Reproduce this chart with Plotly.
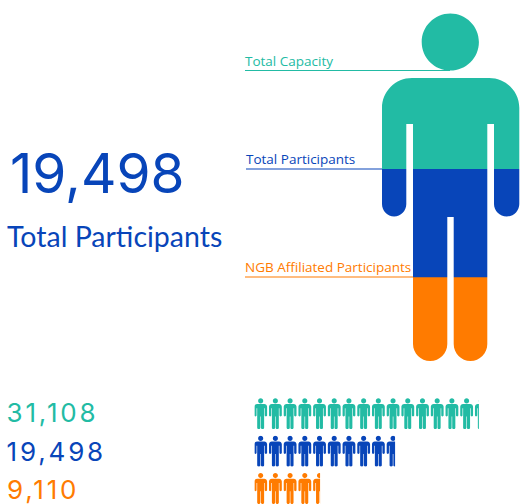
import plotly.graph_objects as go

# ---- data ----
series_names = ["Total Capacity", "Total Participants", "NGB Affiliated Participants"]
series_values = [31108, 19498, 9110]
series_colors = ["#22BBA4", "#0845B9", "#FF7B00"]
person_fill_share = [1.0, 0.552, 0.241]  # filled share of the large figure's height
headline_value = 19498
headline_label = "Total Participants"

W, H = 520, 504
K = 0.5523
TRACKING = 2.8


def round_corner(x0, y0, x1, y1, horizontal_first):
    """Quarter-ellipse from (x0,y0) to (x1,y1) as a cubic bezier."""
    dx, dy = x1 - x0, y1 - y0
    if horizontal_first:
        return f"C{x0 + K * dx:.2f},{y0:.2f} {x1:.2f},{y1 - K * dy:.2f} {x1:.2f},{y1:.2f}"
    return f"C{x0:.2f},{y0 + K * dy:.2f} {x1 - K * dx:.2f},{y1:.2f} {x1:.2f},{y1:.2f}"


def person_path(ox, oy, s, sx=None):
    """Silhouette in a 137.3 x 348 unit box, moved to (ox, oy) and scaled by s."""
    sx = s if sx is None else sx
    X = lambda v: ox + v * sx
    Y = lambda v: oy + v * s
    p = []
    # head
    cx, cy, r = 68.3, 29, 28.6
    rx = r * s / sx
    p.append(f"M{X(cx - rx):.2f},{Y(cy):.2f}")
    p.append(round_corner(X(cx - rx), Y(cy), X(cx), Y(cy - r), False))
    p.append(round_corner(X(cx), Y(cy - r), X(cx + rx), Y(cy), True))
    p.append(round_corner(X(cx + rx), Y(cy), X(cx), Y(cy + r), False))
    p.append(round_corner(X(cx), Y(cy + r), X(cx - rx), Y(cy), True))
    p.append("Z")
    # body
    p.append(f"M{X(0):.2f},{Y(95):.2f}")
    p.append(round_corner(X(0), Y(95), X(30), Y(65), False))
    p.append(f"L{X(107.3):.2f},{Y(65):.2f}")
    p.append(round_corner(X(107.3), Y(65), X(137.3), Y(95), True))
    p.append(f"L{X(137.3):.2f},{Y(191):.2f}")
    p.append(round_corner(X(137.3), Y(191), X(124.7), Y(203.5), False))
    p.append(round_corner(X(124.7), Y(203.5), X(112), Y(191), True))
    p.append(f"L{X(112):.2f},{Y(111):.2f}")
    p.append(f"L{X(105.3):.2f},{Y(111):.2f}")
    p.append(f"L{X(105.3):.2f},{Y(331):.2f}")
    p.append(round_corner(X(105.3), Y(331), X(88.5), Y(348), False))
    p.append(round_corner(X(88.5), Y(348), X(71.7), Y(331), True))
    p.append(f"L{X(71.7):.2f},{Y(204):.2f}")
    p.append(f"L{X(65.3):.2f},{Y(204):.2f}")
    p.append(f"L{X(65.3):.2f},{Y(331):.2f}")
    p.append(round_corner(X(65.3), Y(331), X(48.2), Y(348), False))
    p.append(round_corner(X(48.2), Y(348), X(31), Y(331), True))
    p.append(f"L{X(31):.2f},{Y(111):.2f}")
    p.append(f"L{X(24.3):.2f},{Y(111):.2f}")
    p.append(f"L{X(24.3):.2f},{Y(191):.2f}")
    p.append(round_corner(X(24.3), Y(191), X(12.1), Y(203.5), False))
    p.append(round_corner(X(12.1), Y(203.5), X(0), Y(191), True))
    p.append("Z")
    return "".join(p)


def rect_path(x0, y0, x1, y1):
    return f"M{x0},{y0}L{x1},{y0}L{x1},{y1}L{x0},{y1}Z"


fig = go.Figure()

# Large figure: overlapping columns behind a stencil
for name, share, color in zip(series_names, person_fill_share, series_colors):
    fig.add_trace(go.Bar(x=[0], y=[share], width=[1], name=name, marker=dict(color=color, line_width=0),
                         xaxis="x3", yaxis="y3", showlegend=False, hoverinfo="skip"))

# Small pictogram rows: horizontal bars behind a stencil
for i, (name, value, color) in enumerate(zip(series_names, series_values, series_colors)):
    fig.add_trace(go.Bar(x=[value], y=[i], orientation="h", width=[0.83], name=name,
                         marker=dict(color=color, line_width=0),
                         xaxis="x2", yaxis="y2", showlegend=False, hoverinfo="skip"))

# Stencils
big_ox, big_oy = 382, 13
big_mask = rect_path(378, 0, 520, 372) + person_path(big_ox, big_oy, 1.0)
row_tops = [398.3, 435.8, 473.0]
small_scale = 31 / 348
small_scale_x = 12.8 / 137.3
pitch = 14.71
small_mask = rect_path(250, 392, 500, 504)
for top in row_tops:
    for n in range(16):
        small_mask += person_path(254.3 + n * pitch, top, small_scale, small_scale_x)

shapes = [
    dict(type="path", path=big_mask, xref="x", yref="y", fillcolor="white", line_width=0, layer="above"),
    dict(type="path", path=small_mask, xref="x", yref="y", fillcolor="white", line_width=0, layer="above"),
]

leader_y = [70.5, 169, 277]
leader_x = [(245, 450), (246, 382), (245, 413)]
label_x = [245, 246, 245]
annotations = []
for name, color, ly, (xa, xb), lx in zip(series_names, series_colors, leader_y, leader_x, label_x):
    shapes.append(dict(type="line", x0=xa, x1=xb, y0=ly, y1=ly, xref="x", yref="y",
                       line=dict(color=color, width=1.2), layer="above"))
    annotations.append(dict(x=lx, y=ly - 1, xref="x", yref="y", text=name, showarrow=False,
                            xanchor="left", yanchor="bottom", xshift=-2, yshift=-2,
                            font=dict(family="Open Sans", size=13.5, color=color)))

annotations.append(dict(x=8, y=173, xref="x", yref="y", text=f"{headline_value:,}", showarrow=False,
                        xanchor="left", yanchor="middle",
                        font=dict(family="Inter", size=55, color=series_colors[1])))
annotations.append(dict(x=5, y=236, xref="x", yref="y", text=headline_label, showarrow=False,
                        xanchor="left", yanchor="middle",
                        font=dict(family="Lato", size=28.5, color=series_colors[1])))
for value, color, yy in zip(series_values, series_colors, [412, 451, 489.5]):
    label = f"{value:,}"
    annotations.append(dict(x=5, y=yy, xref="x", yref="y", text=label, showarrow=False,
                            xanchor="left", yanchor="middle", xshift=len(label) * TRACKING / 2,
                            font=dict(family="Inter", size=26, color=color)))

hidden = dict(visible=False, fixedrange=True)
fig.update_layout(
    width=W, height=H, margin=dict(l=0, r=0, t=0, b=0, pad=0),
    paper_bgcolor="white", plot_bgcolor="white", barmode="overlay", showlegend=False,
    shapes=shapes, annotations=annotations,
    xaxis=dict(range=[0, W], domain=[0, 1], **hidden),
    yaxis=dict(range=[H, 0], domain=[0, 1], **hidden),
    xaxis2=dict(range=[0, (495 - 254.3) * 138.5], domain=[254.3 / W, 495 / W], anchor="y2", **hidden),
    yaxis2=dict(range=[2.413, -0.493], domain=[0, (504 - 395) / H], anchor="x2", **hidden),
    xaxis3=dict(range=[-0.5, 0.5], domain=[380 / W, 1], anchor="y3", **hidden),
    yaxis3=dict(range=[0, 1], domain=[(504 - 361) / H, (504 - 13) / H], anchor="x3", **hidden),
)

post = """
document.body.style.margin='0';
document.documentElement.style.overflow='hidden';
document.querySelectorAll('.annotation-text').forEach(function(t){
  var s=t.textContent;
  if(/^[0-9,]+$/.test(s) && parseFloat(t.style.fontSize)<40){ t.style.letterSpacing='%spx'; }
});
""" % TRACKING
fig.write_html("out.html", config={"displayModeBar": False}, post_script=post)
